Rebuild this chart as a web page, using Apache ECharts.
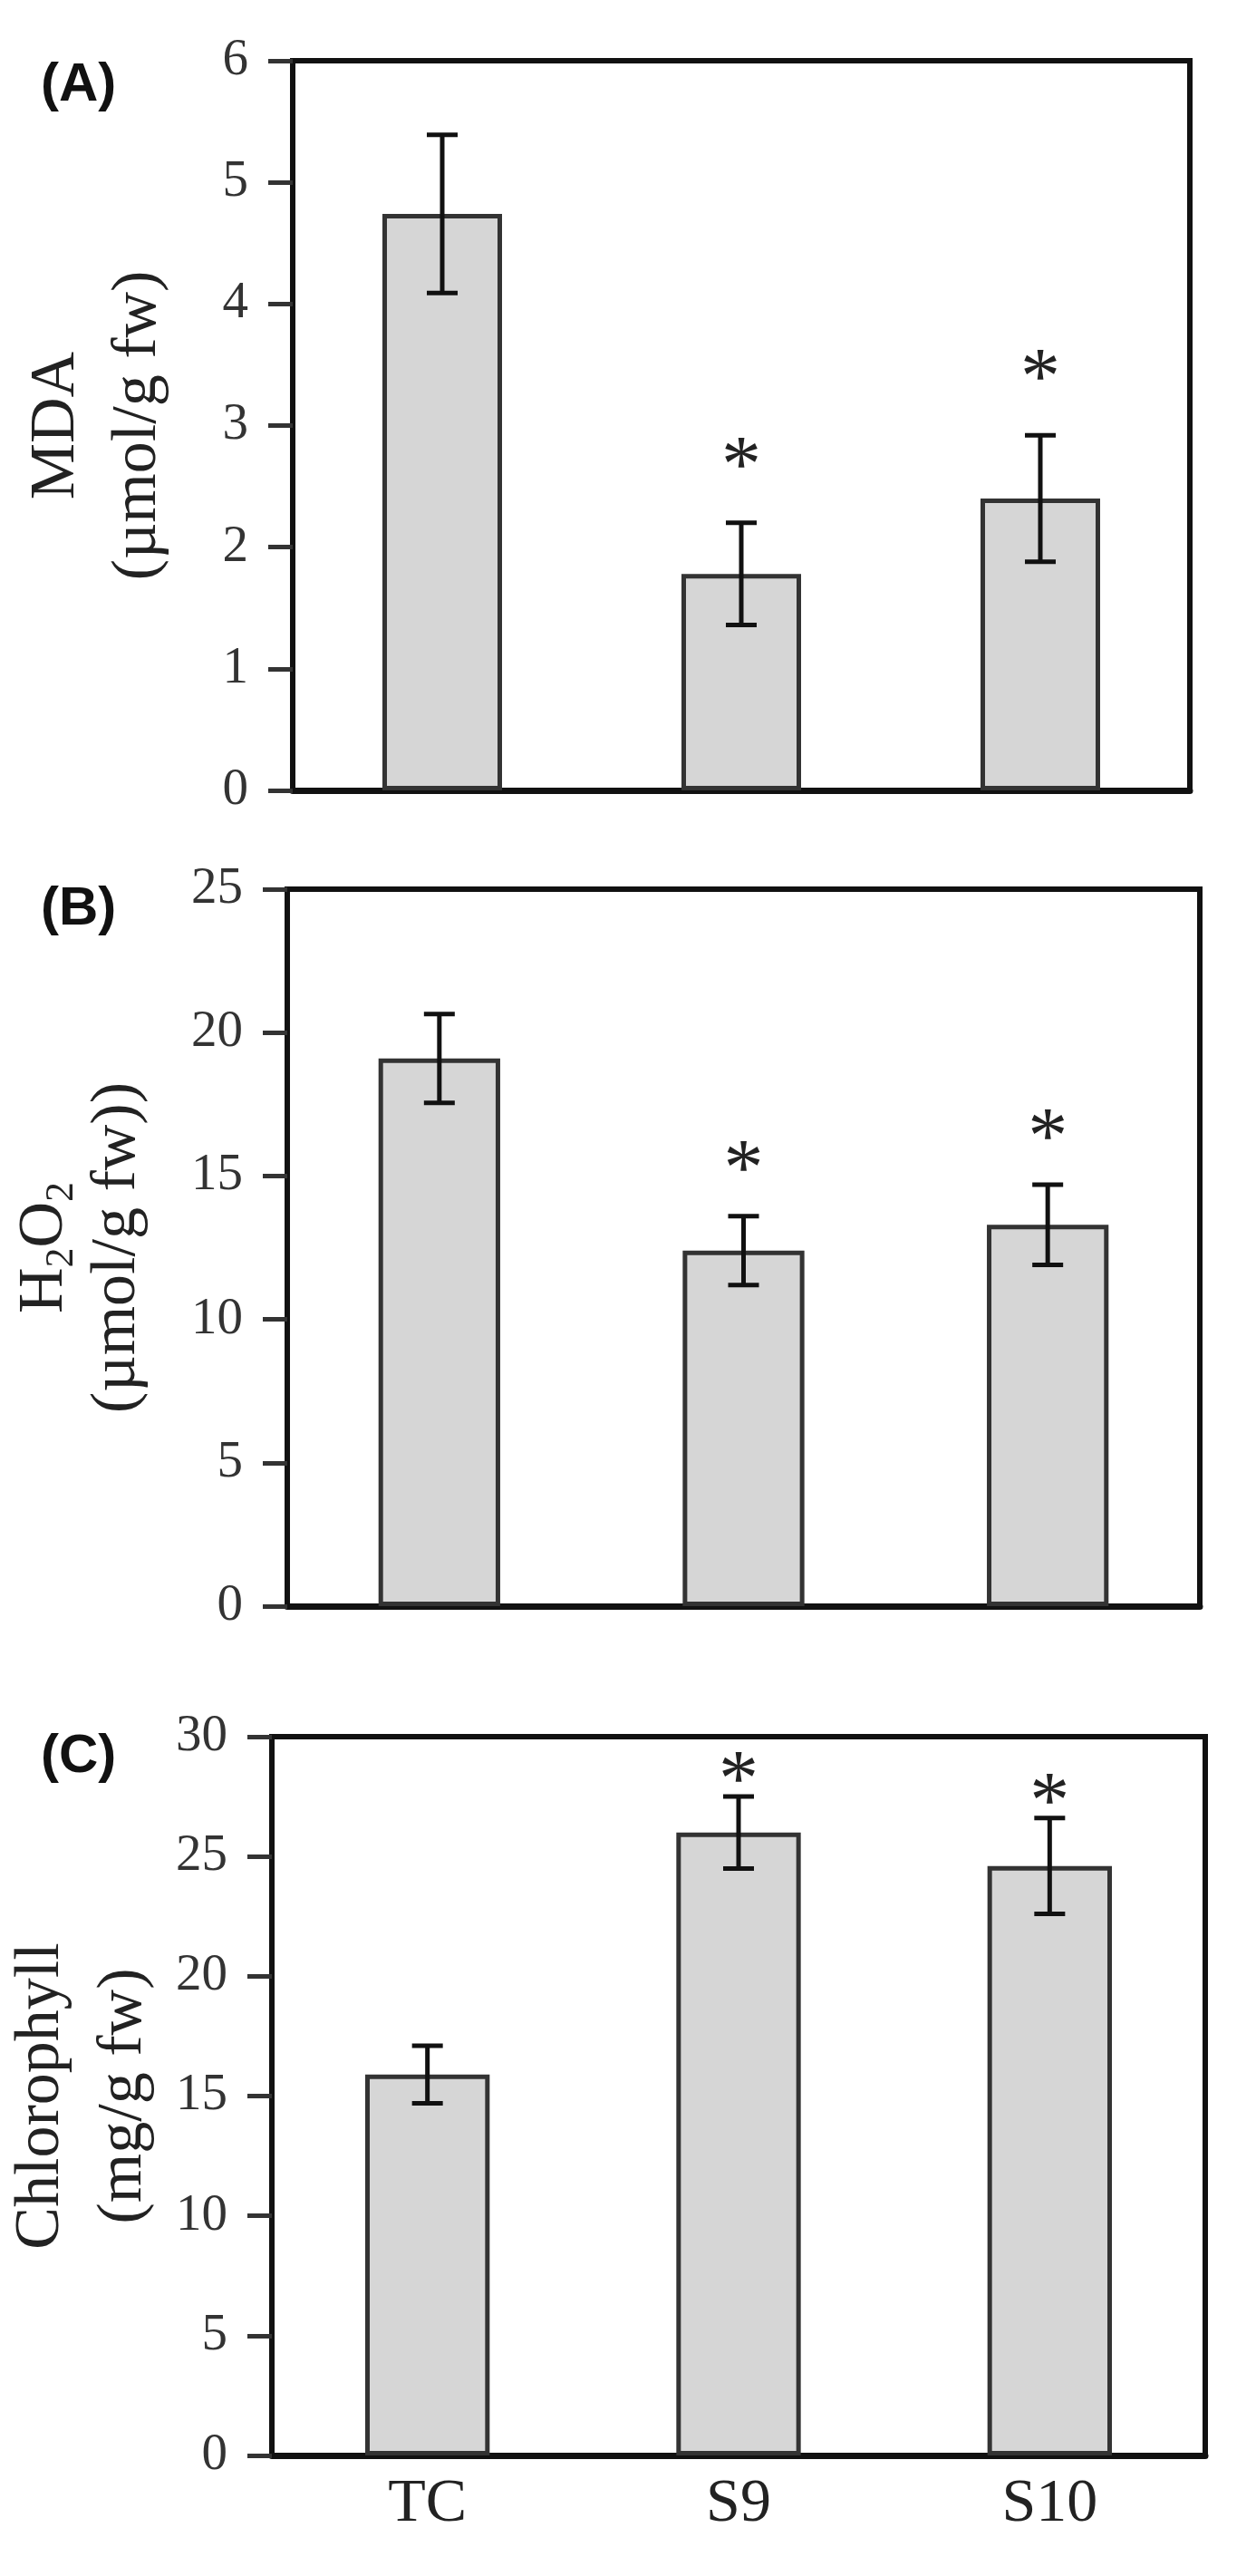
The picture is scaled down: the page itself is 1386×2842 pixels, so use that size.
<!DOCTYPE html>
<html>
<head>
<meta charset="utf-8">
<title>MDA, H2O2 and chlorophyll</title>
<script src="https://cdn.jsdelivr.net/npm/echarts@6/dist/echarts.min.js"></script>
<style>
  html, body { margin: 0; padding: 0; background: #fff; }
  #chart { width: 1386px; height: 2842px; }
</style>
</head>
<body>
<div id="chart"></div>
<script>
// treatments on the x axis
var groups = ['TC', 'S9', 'S10'];

// (A) MDA, umol/g fw
var mdaMean = [4.74, 1.78, 2.40];
var mdaErr = [0.65, 0.42, 0.52];

// (B) H2O2, umol/g fw
var h2o2Mean = [19.1, 12.4, 13.3];
var h2o2Err = [1.55, 1.2, 1.4];

// (C) chlorophyll, mg/g fw
var chlMean = [15.9, 26.0, 24.6];
var chlErr = [1.2, 1.5, 2.0];

// * = significant vs TC
var signif = [false, true, true];

// y axis ranges
var axisMax = [6, 25, 30];
var axisStep = [1, 5, 5];

var serif = '"Liberation Serif", "Times New Roman", serif';

var panels = [
  { tag: '(A)', mean: mdaMean, err: mdaErr,
    name: '{t|MDA}\n{u|(µmol/g fw)}',
    grid: { left: 323, right: 73, top: 67, height: 805 },
    nameGap: 125, lh: 90, starGap: 75 },
  { tag: '(B)', mean: h2o2Mean, err: h2o2Err,
    name: '{t|H}{s|2}{t|O}{s|2}\n{u|(µmol/g fw))}',
    grid: { left: 317, right: 62, top: 981, height: 791 },
    nameGap: 147, lh: 80, starGap: 64 },
  { tag: '(C)', mean: chlMean, err: chlErr,
    name: '{t|Chlorophyll}\n{u|(mg/g fw)}',
    grid: { left: 300, right: 56, top: 1916, height: 793 },
    nameGap: 118, lh: 91, starGap: 30 }
];

var chart = echarts.init(document.getElementById('chart'), null, { renderer: 'canvas' });

var grids = [], xAxes = [], yAxes = [], series = [], labels = [];

panels.forEach(function (p, k) {
  grids.push(Object.assign({
    show: true, borderColor: '#111', borderWidth: 6, backgroundColor: 'transparent'
  }, p.grid));

  xAxes.push({
    gridIndex: k, type: 'category', data: groups,
    axisLine: { show: true, lineStyle: { color: '#111', width: 7 } },
    axisTick: { show: false },
    axisLabel: { show: k === 2, fontFamily: serif, fontSize: 68, color: '#222', margin: 20 },
    splitLine: { show: false }
  });

  yAxes.push({
    gridIndex: k, type: 'value', min: 0, max: axisMax[k], interval: axisStep[k],
    name: p.name, nameLocation: 'middle', nameRotate: 90, nameGap: p.nameGap,
    nameTextStyle: {
      fontFamily: serif, color: '#222',
      rich: {
        t: { fontFamily: serif, fontSize: 70, lineHeight: p.lh, color: '#222' },
        s: { fontFamily: serif, fontSize: 44, verticalAlign: 'bottom', color: '#222' },
        u: { fontFamily: serif, fontSize: 70, lineHeight: p.lh, color: '#222' }
      }
    },
    axisLine: { show: true, lineStyle: { color: '#111', width: 6 } },
    axisTick: { show: true, length: 27, lineStyle: { color: '#333', width: 5 } },
    axisLabel: { fontFamily: serif, fontSize: 57, color: '#333', margin: 49 },
    splitLine: { show: false }
  });

  series.push({
    type: 'bar', xAxisIndex: k, yAxisIndex: k,
    data: p.mean, barWidth: '40%',
    itemStyle: { color: '#d6d6d6', borderColor: '#333', borderWidth: 5 },
    silent: true
  });

  // error bars and asterisks
  series.push({
    type: 'custom', xAxisIndex: k, yAxisIndex: k, z: 5, silent: true,
    data: p.mean.map(function (m, i) { return [i, m, p.err[i], signif[i] ? 1 : 0]; }),
    encode: { x: 0, y: 1 },
    renderItem: function (params, api) {
      var i = api.value(0), m = api.value(1), e = api.value(2);
      var hi = api.coord([i, m + e]);
      var lo = api.coord([i, m - e]);
      var half = 17;
      var st = { stroke: '#111', lineWidth: 5 };
      var kids = [
        { type: 'line', shape: { x1: hi[0], y1: hi[1], x2: lo[0], y2: lo[1] }, style: st },
        { type: 'line', shape: { x1: hi[0] - half, y1: hi[1], x2: hi[0] + half, y2: hi[1] }, style: st },
        { type: 'line', shape: { x1: lo[0] - half, y1: lo[1], x2: lo[0] + half, y2: lo[1] }, style: st }
      ];
      if (api.value(3)) {
        var fs = 88;
        kids.push({
          type: 'text',
          style: {
            text: '*', x: hi[0], y: hi[1] - p.starGap + 0.18 * fs,
            align: 'center', verticalAlign: 'middle',
            font: fs + 'px ' + serif, fill: '#222'
          }
        });
      }
      return { type: 'group', children: kids };
    }
  });

  labels.push({
    type: 'text', left: 45, top: p.grid.top - 3 + (k === 0 ? 0 : -5),
    style: { text: p.tag, font: 'bold 60px "Liberation Sans", Arial, sans-serif', fill: '#111' }
  });
});

chart.setOption({
  backgroundColor: '#fff',
  animation: false,
  grid: grids,
  xAxis: xAxes,
  yAxis: yAxes,
  series: series,
  graphic: labels
});
</script>
</body>
</html>
